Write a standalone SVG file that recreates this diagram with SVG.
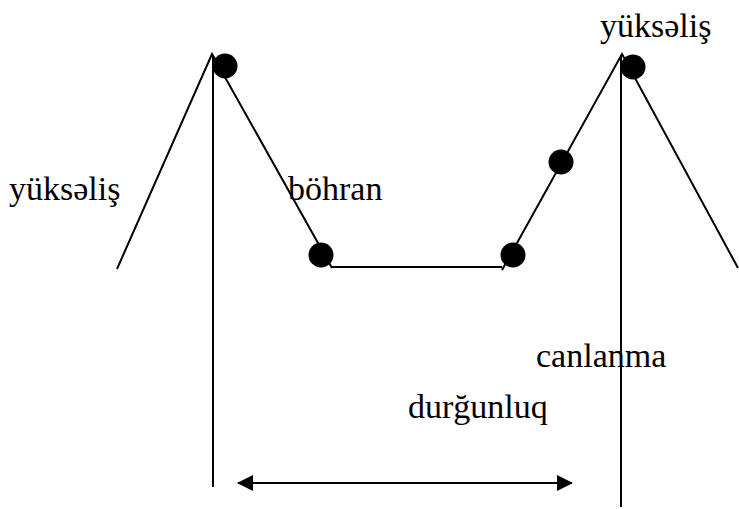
<svg xmlns="http://www.w3.org/2000/svg" width="739" height="509" viewBox="0 0 739 509">
<style>
.ln{stroke:#000;stroke-width:2;fill:none}
.dot{fill:#000}
.lbl{font-family:"Liberation Serif","Times New Roman",serif;font-size:34px;fill:#000}
</style>
<defs>
<marker id="ah" viewBox="0 0 16 16" refX="15" refY="8" markerWidth="16" markerHeight="16" markerUnits="userSpaceOnUse" orient="auto-start-reverse">
<path d="M0,0 L16,8 L0,16 Z" fill="#000"/>
</marker>
</defs>
<rect width="739" height="509" fill="#fff"/>
<g id="connectors">
<polyline class="ln" points="117,269 212,54 332,268"/>
<line class="ln" x1="332" y1="267" x2="502" y2="267"/>
<polyline class="ln" points="502,270 622,54 738,268"/>
<line class="ln" x1="213" y1="55" x2="213" y2="487"/>
<line class="ln" x1="621" y1="55" x2="621" y2="507"/>
<line class="ln" x1="238" y1="483" x2="572" y2="483" marker-start="url(#ah)" marker-end="url(#ah)"/>
</g>
<g id="n-peak1"><circle class="dot" cx="225" cy="66" r="12.5"/></g>
<g id="n-trough1"><circle class="dot" cx="321" cy="255" r="12.5"/></g>
<g id="n-trough2"><circle class="dot" cx="513" cy="255" r="12.5"/></g>
<g id="n-mid"><circle class="dot" cx="561" cy="162" r="12.5"/></g>
<g id="n-peak2"><circle class="dot" cx="633" cy="67" r="12.5"/></g>
<g id="labels">
<text class="lbl" x="9" y="200">yüksəliş</text>
<text class="lbl" x="288" y="200">böhran</text>
<text class="lbl" x="600" y="37">yüksəliş</text>
<text class="lbl" x="536" y="367">canlanma</text>
<text class="lbl" x="408" y="418">durğunluq</text>
</g>
</svg>
